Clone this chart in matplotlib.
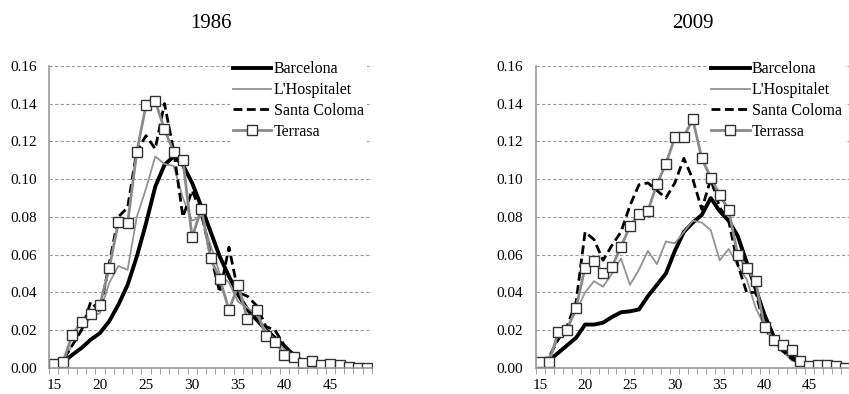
import matplotlib.pyplot as plt
import numpy as np

ages = list(range(15, 50))

# 1986
bcn_86 = [0.001, 0.003, 0.007, 0.0106, 0.015, 0.0185, 0.0247, 0.0335, 0.044, 0.059,
          0.0766, 0.096, 0.1075, 0.112, 0.1075, 0.098, 0.0855, 0.0722, 0.059, 0.0485,
          0.0388, 0.031, 0.0255, 0.0203, 0.0159, 0.0115, 0.007, 0.0035, 0.0012, 0.0005,
          0.0003, 0.0002, 0.0001, 0.0, 0.0]
hos_86 = [0.001, 0.004, 0.012, 0.02, 0.027, 0.029, 0.045, 0.054, 0.052, 0.08,
          0.095, 0.112, 0.108, 0.107, 0.09, 0.078, 0.08, 0.065, 0.05, 0.045,
          0.035, 0.032, 0.028, 0.02, 0.015, 0.01, 0.006, 0.003, 0.002, 0.001,
          0.001, 0.0005, 0.0, 0.0, 0.0]
sco_86 = [0.001, 0.004, 0.012, 0.02, 0.035, 0.03, 0.055, 0.08, 0.085, 0.115,
          0.123, 0.116, 0.140, 0.115, 0.08, 0.094, 0.082, 0.06, 0.04, 0.064,
          0.04, 0.038, 0.033, 0.022, 0.02, 0.012, 0.007, 0.003, 0.001, 0.0005,
          0.0003, 0.0, 0.0, 0.0, 0.0]
ter_86 = [0.0023, 0.0032, 0.0176, 0.0243, 0.0285, 0.0335, 0.0527, 0.0772, 0.0767, 0.1145,
          0.1392, 0.1413, 0.1263, 0.1145, 0.1101, 0.0691, 0.0844, 0.058, 0.0472, 0.0308,
          0.0437, 0.0259, 0.0305, 0.0167, 0.0139, 0.007, 0.0056, 0.0026, 0.0039, 0.0018,
          0.0023, 0.0014, 0.0004, 0.0, 0.0]

# 2009
bcn_09 = [0.003, 0.004, 0.008, 0.012, 0.016, 0.023, 0.023, 0.024, 0.027, 0.0295,
          0.030, 0.031, 0.038, 0.044, 0.050, 0.062, 0.072, 0.077, 0.081, 0.090,
          0.083, 0.078, 0.070, 0.056, 0.042, 0.028, 0.017, 0.011, 0.006, 0.003,
          0.001, 0.0005, 0.0, 0.0, 0.0]
hos_09 = [0.003, 0.006, 0.015, 0.022, 0.030, 0.040, 0.046, 0.043, 0.050, 0.058,
          0.044, 0.052, 0.062, 0.055, 0.067, 0.066, 0.072, 0.078, 0.077, 0.073,
          0.057, 0.063, 0.054, 0.047, 0.032, 0.022, 0.014, 0.009, 0.004, 0.003,
          0.001, 0.0005, 0.0, 0.0, 0.0]
sco_09 = [0.003, 0.006, 0.015, 0.022, 0.035, 0.072, 0.068, 0.057, 0.065, 0.072,
          0.086, 0.097, 0.098, 0.094, 0.090, 0.098, 0.111, 0.100, 0.084, 0.100,
          0.085, 0.078, 0.055, 0.040, 0.040, 0.022, 0.013, 0.009, 0.005, 0.002,
          0.001, 0.0005, 0.0, 0.0, 0.0]
ter_09 = [0.0032, 0.0032, 0.0189, 0.0203, 0.032, 0.0532, 0.0569, 0.0502, 0.0537, 0.064,
          0.0752, 0.0814, 0.0832, 0.0973, 0.108, 0.1221, 0.1225, 0.1316, 0.111, 0.1008,
          0.0916, 0.0837, 0.0599, 0.0529, 0.0458, 0.0217, 0.015, 0.0123, 0.0093, 0.0035,
          0.0009, 0.0018, 0.0018, 0.0012, 0.0]

plt.rcParams['font.family'] = ['Liberation Serif', 'DejaVu Serif']

fig = plt.figure(figsize=(8.49, 3.94), dpi=100)
ax1 = fig.add_axes([0.058, 0.066, 0.380, 0.767])
ax2 = fig.add_axes([0.631, 0.066, 0.370, 0.767])


def draw(ax, title, bcn, hos, sco, ter, ter_name):
    ax.plot(ages, bcn, color='black', lw=2.8, label='Barcelona')
    ax.plot(ages, hos, color='#939393', lw=1.3, label="L'Hospitalet")
    ax.plot(ages, sco, color='black', lw=2.0, ls=(0, (3.2, 1.6)), label='Santa Coloma')
    ax.plot(ages, ter, color='#8a8a8a', lw=2.0, marker='s', markersize=7.5,
            markerfacecolor='white', markeredgecolor='#333333', markeredgewidth=1.0,
            label=ter_name)
    ax.set_xlim(14.5, 49.5)
    ax.set_ylim(0, 0.16)
    ax.set_yticks(np.arange(0, 0.161, 0.02))
    ax.set_yticklabels([f'{v:.2f}' for v in np.arange(0, 0.161, 0.02)])
    ax.set_xticks([15, 20, 25, 30, 35, 40, 45])
    ax.set_xticks(np.arange(14.5, 50, 1), minor=True)
    ax.tick_params(axis='x', which='major', length=0, labelsize=11, pad=8)
    ax.tick_params(axis='x', which='minor', length=4, color='#999999', direction='out')
    ax.tick_params(axis='y', length=0, labelsize=11, pad=9)
    ax.grid(axis='y', color='#9a9a9a', ls=(0, (3, 2)), lw=0.8)
    ax.set_axisbelow(True)
    for s in ['top', 'right']:
        ax.spines[s].set_visible(False)
    for s in ['left', 'bottom']:
        ax.spines[s].set_color('#999999')
        ax.spines[s].set_linewidth(1.2)
    ax.set_title(title, fontsize=15, pad=27)
    leg = ax.legend(loc='upper right', bbox_to_anchor=(0.985, 1.025), fontsize=11.5,
                    frameon=True, fancybox=False, handlelength=2.4, handletextpad=0.15,
                    labelspacing=0.3, borderpad=0.2, borderaxespad=0.0)
    leg.get_frame().set_facecolor('white')
    leg.get_frame().set_edgecolor('none')
    leg.get_frame().set_alpha(1.0)


draw(ax1, '1986', bcn_86, hos_86, sco_86, ter_86, 'Terrasa')
draw(ax2, '2009', bcn_09, hos_09, sco_09, ter_09, 'Terrassa')

fig.savefig('out.png', dpi=100)
